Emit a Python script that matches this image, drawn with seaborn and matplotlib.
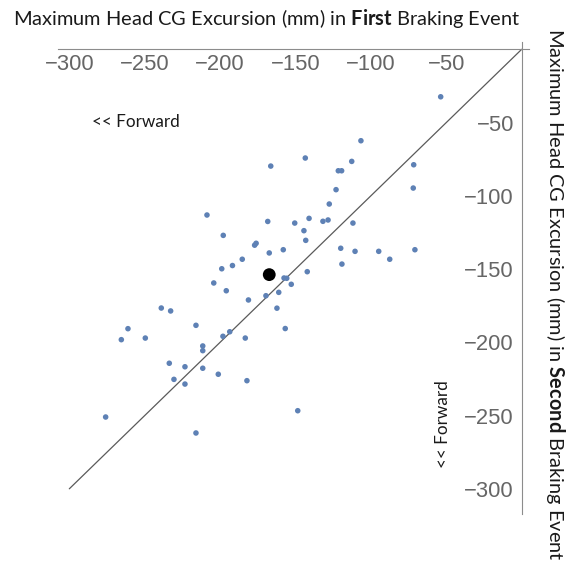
import matplotlib
matplotlib.use("Agg")
import matplotlib.pyplot as plt
from matplotlib.ticker import MultipleLocator, FixedLocator
import seaborn as sns
import pandas as pd

# Maximum head CG excursion (mm) for each subject, first vs second braking event
first_event = [
    -53.7, -106.6, -143.5, -112.7, -71.6, -121.6, -119.4, -123.1, -71.9, -127.6,
    -141.0, -131.8, -128.4, -144.4, -111.9, -143.2, -120.0, -110.5, -94.8, -87.5,
    -70.8, -119.2, -142.2,
    -166.4, -208.7, -168.4, -150.5, -197.9, -176.1, -177.1, -167.4, -158.1, -185.3,
    -191.8, -198.9, -204.2, -157.6, -155.8, -152.8, -195.9, -161.1, -169.6, -181.2,
    -162.3, -156.8,
    -239.0, -232.8, -261.1, -265.5, -249.6, -216.0, -211.5, -211.5, -198.1, -193.6,
    -183.3, -233.7, -223.3, -211.5, -230.6, -223.3, -201.2, -182.2, -275.9, -216.0,
    -148.5,
]
second_event = [
    -32.4, -62.4, -74.2, -76.5, -78.8, -82.9, -82.9, -95.8, -94.7, -105.6,
    -115.4, -117.4, -116.5, -123.8, -118.6, -130.4, -135.8, -137.9, -137.9, -143.3,
    -136.8, -146.6, -151.8,
    -79.7, -113.1, -117.5, -118.6, -127.0, -132.4, -133.7, -139.0, -136.8, -143.3,
    -147.6, -149.8, -159.5, -156.1, -156.3, -160.4, -164.8, -165.9, -168.2, -171.1,
    -176.7, -190.6,
    -176.6, -178.6, -190.7, -198.2, -197.1, -188.4, -202.5, -205.7, -195.9, -192.8,
    -197.1, -214.3, -216.7, -217.7, -225.3, -228.5, -221.8, -226.2, -251.0, -261.9,
    -246.7,
]
# group mean
mean_first = [-167.4]
mean_second = [-153.8]
# line of equal excursion
unity = [-300, 0]

x_ticks = [-300, -250, -200, -150, -100, -50]
y_ticks = [-300, -250, -200, -150, -100, -50]

title_text = r"Maximum Head CG Excursion (mm) in $\mathbf{First}$ Braking Event"
side_text = r"Maximum Head CG Excursion (mm) in $\mathbf{Second}$ Braking Event"
forward_text = "<< Forward"

sns.set_style("white")
plt.rcParams["font.family"] = ["Lato", "DejaVu Sans"]
plt.rcParams["mathtext.fontset"] = "custom"
plt.rcParams["mathtext.rm"] = "Lato"
plt.rcParams["mathtext.bf"] = "Lato:bold"

W, H = 566, 567
fig = plt.figure(figsize=(W / 100, H / 100), dpi=100)


def fx(px):
    return px / W


def fy(py):
    return 1 - py / H


# axes box in pixels; data origin sits at the top-right corner
xlim = (-307.5, 5.0)
ylim = (-317.0, 5.0)
left_px, right_px = 58.0, 529.2
top_px, bottom_px = 42.0, 513.7
ax = fig.add_axes([fx(left_px), fy(bottom_px),
                   (right_px - left_px) / W, (bottom_px - top_px) / H])

df = pd.DataFrame({"first": first_event, "second": second_event})
sns.lineplot(x=unity, y=unity, ax=ax, color="#5a5a5a", lw=0.9, zorder=1)
sns.scatterplot(data=df, x="first", y="second", ax=ax, color="#5E81B5",
                s=16, edgecolor="none", linewidth=0, zorder=3, legend=False)
sns.scatterplot(x=mean_first, y=mean_second, ax=ax, color="black",
                s=85, edgecolor="none", linewidth=0, zorder=4, legend=False)

ax.set_xlim(*xlim)
ax.set_ylim(*ylim)
ax.set_xlabel("")
ax.set_ylabel("")

# axes drawn through the origin
for side in ("top", "right"):
    ax.spines[side].set_visible(False)
ax.spines["bottom"].set_position(("data", 0))
ax.spines["left"].set_position(("data", 0))
for side in ("bottom", "left"):
    ax.spines[side].set_color("#8c8c8c")
    ax.spines[side].set_linewidth(0.8)

ax.xaxis.set_major_locator(FixedLocator(x_ticks))
ax.yaxis.set_major_locator(FixedLocator(y_ticks))
ax.xaxis.set_minor_locator(MultipleLocator(10))
ax.yaxis.set_minor_locator(MultipleLocator(10))
ax.set_xticklabels([f"\u2212{abs(v)}" for v in x_ticks])
ax.set_yticklabels([f"\u2212{abs(v)}" for v in y_ticks])

ax.tick_params(axis="both", which="both", direction="in", color="#8c8c8c", width=0.8)
ax.tick_params(axis="both", which="major", length=4.0)
ax.tick_params(axis="both", which="minor", length=2.0)
ax.tick_params(axis="x", which="major", pad=3.5)
ax.tick_params(axis="y", which="major", pad=5.5)
for lab in ax.get_xticklabels() + ax.get_yticklabels():
    lab.set_fontfamily("Liberation Sans")
    lab.set_fontsize(15.8)
    lab.set_color("#666666")

txt_color = "#1a1a1a"
fig.text(fx(13), fy(25), title_text, ha="left", va="baseline",
         fontsize=14.45, color=txt_color)
fig.text(fx(549.5), fy(28), side_text, rotation=-90, rotation_mode="anchor",
         ha="left", va="baseline", fontsize=14.4, color=txt_color)
fig.text(fx(91.7), fy(126.7), forward_text, ha="left", va="baseline",
         fontsize=12.3, color=txt_color)
fig.text(fx(448.3), fy(468), forward_text, rotation=90, rotation_mode="anchor",
         ha="left", va="baseline", fontsize=12.3, color=txt_color)

fig.savefig("out.png", dpi=100, facecolor="white")
